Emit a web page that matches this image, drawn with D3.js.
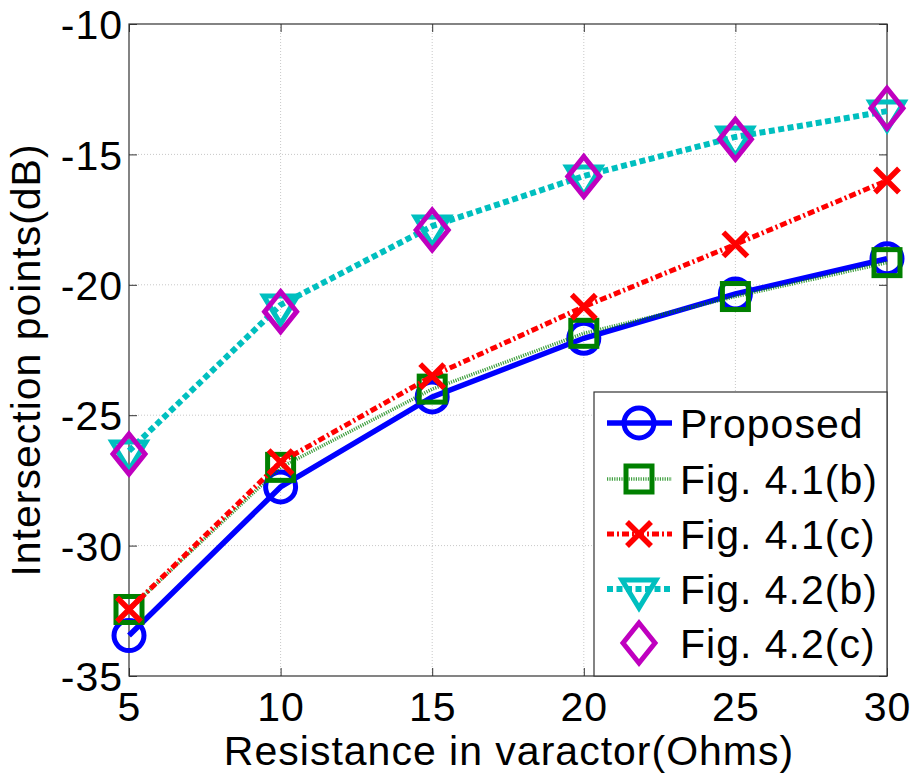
<!DOCTYPE html>
<html><head><meta charset="utf-8">
<script src="https://cdn.jsdelivr.net/npm/d3@7"></script>
<style>body{margin:0;background:#fff}svg{display:block}text{font-family:"Liberation Sans",Arial,Helvetica,sans-serif;fill:#000}</style>
</head><body>
<svg id="c" width="915" height="778"></svg>
<script>
const resistance = [5, 10, 15, 20, 25, 30];
const proposed = [-33.45, -27.75, -24.3, -22.05, -20.35, -19.0];
const fig41b   = [-32.45, -27.0, -24.0, -21.86, -20.45, -19.15];
const fig41c   = [-32.45, -26.8, -23.5, -20.84, -18.45, -16.0];
const fig42b   = [-26.37, -20.77, -17.75, -15.83, -14.33, -13.34];
const fig42c   = [-26.49, -21.03, -17.9, -15.85, -14.42, -13.23];
const xTicks = [5, 10, 15, 20, 25, 30];
const yTicks = [-35, -30, -25, -20, -15, -10];
const seriesNames = ["Proposed", "Fig. 4.1(b)", "Fig. 4.1(c)", "Fig. 4.2(b)", "Fig. 4.2(c)"];

const L = 129, R = 887, T = 24, B = 676;
const svg = d3.select("#c");
const x = d3.scaleLinear().domain([5, 30]).range([L, R]);
const y = d3.scaleLinear().domain([-35, -10]).range([B, T]);
const fs = 41, ls = "1px";

// grid
const g = svg.append("g");
g.selectAll(".gx").data(xTicks.slice(1, -1)).join("line")
  .attr("x1", d => x(d)).attr("x2", d => x(d)).attr("y1", T).attr("y2", B)
  .attr("stroke", "#c8c8c8").attr("stroke-width", 1).attr("stroke-dasharray", "1,2");
g.selectAll(".gy").data(yTicks.slice(1, -1)).join("line")
  .attr("y1", d => y(d)).attr("y2", d => y(d)).attr("x1", L).attr("x2", R)
  .attr("stroke", "#c8c8c8").attr("stroke-width", 1).attr("stroke-dasharray", "1,2");

// axes with inward ticks
const fmt = d => String(d);
const ax = d3.axisBottom(x).tickValues(xTicks).tickFormat(fmt).tickSizeInner(-8).tickSizeOuter(0).tickPadding(16);
const ay = d3.axisLeft(y).tickValues(yTicks).tickFormat(fmt).tickSizeInner(-8).tickSizeOuter(0).tickPadding(6);
const gxB = svg.append("g").attr("transform", `translate(0,${B})`).call(ax);
const gyL = svg.append("g").attr("transform", `translate(${L},0)`).call(ay);
const gxT = svg.append("g").attr("transform", `translate(0,${T})`).call(d3.axisTop(x).tickValues(xTicks).tickSizeInner(-8).tickSizeOuter(0).tickFormat(""));
const gyR = svg.append("g").attr("transform", `translate(${R},0)`).call(d3.axisRight(y).tickValues(yTicks).tickSizeInner(-8).tickSizeOuter(0).tickFormat(""));
[gxB, gyL, gxT, gyR].forEach(a => {
  a.select(".domain").remove();
  a.selectAll("line").attr("stroke", "#333");
  a.selectAll("text").attr("font-size", fs).attr("fill", "#000")
    .style("font-family", '"Liberation Sans",Arial,sans-serif').style("letter-spacing", ls);
});
gyL.selectAll("text").attr("dy", "0.36em");
gxB.selectAll("text").attr("dy", "0.71em");
svg.append("rect").attr("x", L).attr("y", T).attr("width", R - L).attr("height", B - T)
  .attr("fill", "none").attr("stroke", "#333").attr("stroke-width", 1.2);

// titles
svg.append("text").attr("x", (L + R) / 2 + 1).attr("y", 765).attr("text-anchor", "middle")
  .attr("font-size", fs).style("letter-spacing", ls).text("Resistance in varactor(Ohms)");
svg.append("text").attr("transform", `translate(40,${(T + B) / 2 + 10}) rotate(-90)`)
  .attr("text-anchor", "middle").attr("font-size", fs).style("letter-spacing", ls).text("Intersection points(dB)");

// series
const series = [
  {name: seriesNames[0], vals: proposed, color: "#0000ff", w: 5.5, dash: null, marker: "circle"},
  {name: seriesNames[1], vals: fig41b, color: "#008000", w: 3.5, dash: "1.2,1.2", marker: "square", lineOpacity: 0.75},
  {name: seriesNames[2], vals: fig41c, color: "#ff0000", w: 5, dash: "7,3,2,3", marker: "x"},
  {name: seriesNames[3], vals: fig42b, color: "#00bfbf", w: 6, dash: "6,3.5", marker: "tri"},
  {name: seriesNames[4], vals: fig42c, color: "#bf00bf", w: 0, dash: null, marker: "diamond"}
];

function drawMarker(sel, type, color) {
  const sw = 5;
  if (type === "circle") sel.append("circle").attr("r", 15).attr("fill", "none").attr("stroke", color).attr("stroke-width", sw);
  if (type === "square") sel.append("rect").attr("x", -13).attr("y", -13).attr("width", 26).attr("height", 26).attr("fill", "none").attr("stroke", color).attr("stroke-width", sw);
  if (type === "x") sel.append("path").attr("d", "M-12,-12L12,12M-12,12L12,-12").attr("stroke", color).attr("stroke-width", 5.5).attr("fill", "none");
  if (type === "tri") sel.append("path").attr("d", "M-17,-9L17,-9L0,19Z").attr("fill", "none").attr("stroke", color).attr("stroke-width", sw).attr("stroke-linejoin", "miter");
  if (type === "diamond") sel.append("path").attr("d", "M0,-20L16,0L0,20L-16,0Z").attr("fill", "none").attr("stroke", color).attr("stroke-width", sw);
}

const line = d3.line().x((d, i) => x(resistance[i])).y(d => y(d));
series.forEach(s => {
  const gs = svg.append("g");
  if (s.w > 0) {
    gs.append("path").datum(s.vals).attr("d", line).attr("fill", "none")
      .attr("stroke", s.color).attr("stroke-width", s.w)
      .attr("stroke-dasharray", s.dash).attr("stroke-opacity", s.lineOpacity || 1);
  }
  s.vals.forEach((v, i) => {
    const m = gs.append("g").attr("transform", `translate(${x(resistance[i])},${y(v)})`);
    drawMarker(m, s.marker, s.color);
  });
});

// legend
const lg = svg.append("g");
lg.append("rect").attr("x", 594).attr("y", 392).attr("width", 293).attr("height", 284)
  .attr("fill", "#fff").attr("stroke", "#333").attr("stroke-width", 1.2);
const rowY = [423, 479, 534, 589, 643];
series.forEach((s, i) => {
  const yy = rowY[i];
  if (s.w > 0) {
    lg.append("line").attr("x1", 607).attr("x2", 672).attr("y1", yy).attr("y2", yy)
      .attr("stroke", s.color).attr("stroke-width", s.w).attr("stroke-dasharray", s.dash)
      .attr("stroke-opacity", s.lineOpacity || 1);
  }
  const m = lg.append("g").attr("transform", `translate(639,${yy})`);
  drawMarker(m, s.marker, s.color);
  lg.append("text").attr("x", 680).attr("y", yy).attr("dy", "0.36em").attr("font-size", fs)
    .style("letter-spacing", ls).text(s.name);
});
</script>
</body></html>
